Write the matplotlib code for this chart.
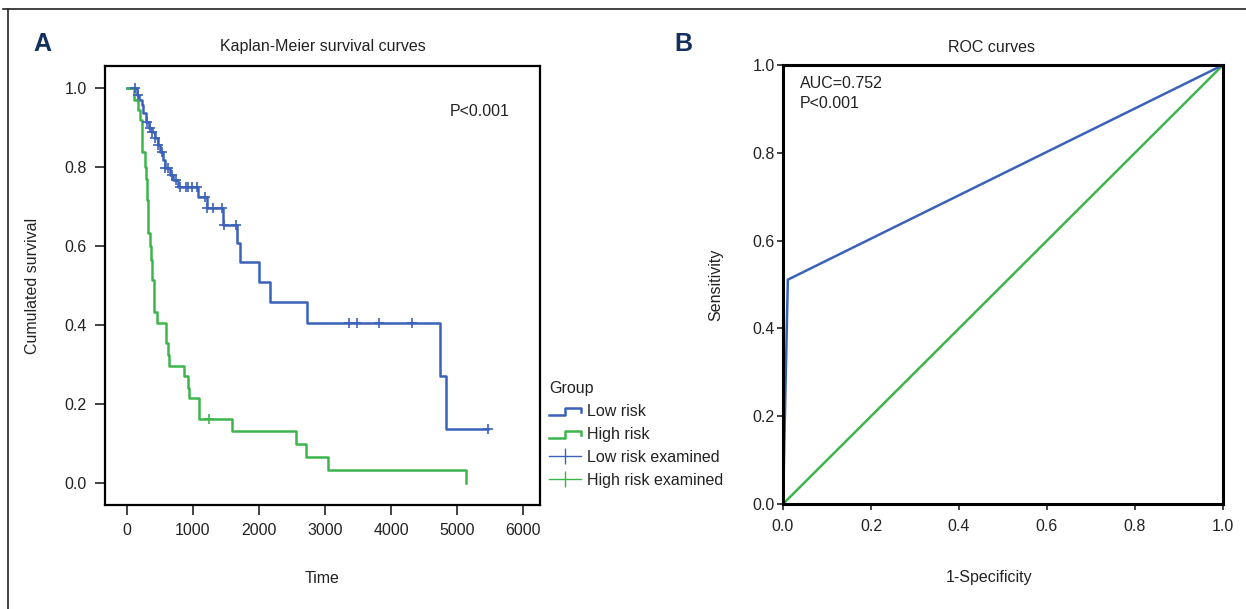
import numpy as np
import matplotlib
matplotlib.use("Agg")
import matplotlib.pyplot as plt
from matplotlib.lines import Line2D
from matplotlib.legend_handler import HandlerBase

plt.rcParams['font.family'] = ['Liberation Sans', 'DejaVu Sans']
FS = 11.5
plt.rcParams['font.size'] = FS

# Kaplan-Meier steps: time at which survival drops to the given level
low_time = [0, 152, 182, 227, 242, 288, 333, 379, 424, 470, 500, 545, 576, 652, 697,
            773, 1076, 1212, 1455, 1667, 1712, 2000, 2167, 2727, 4742, 4833, 5470]
low_surv = [1.0, 0.982, 0.97, 0.957, 0.937, 0.914, 0.90, 0.889, 0.873, 0.856, 0.838,
            0.818, 0.797, 0.78, 0.767, 0.749, 0.724, 0.696, 0.653, 0.607, 0.56, 0.509,
            0.458, 0.405, 0.271, 0.137, 0.137]
low_censor = [121, 167, 303, 348, 379, 424, 470, 530, 576, 621, 682, 742, 803, 894, 924,
              985, 1061, 1182, 1220, 1303, 1440, 1470, 1650, 3364, 3485, 3818, 4318, 5470]

high_time = [0, 106, 167, 197, 227, 273, 288, 303, 318, 348, 364, 379, 409, 455, 591,
             621, 636, 864, 924, 939, 1091, 1591, 2561, 2712, 3045, 5136]
high_surv = [1.0, 0.97, 0.945, 0.92, 0.838, 0.80, 0.77, 0.716, 0.633, 0.60, 0.565, 0.514,
             0.433, 0.405, 0.354, 0.324, 0.296, 0.271, 0.24, 0.215, 0.162, 0.132, 0.099,
             0.066, 0.033, 0.0]
high_censor = [1242]

# ROC curve points
roc_fpr = [0.0, 0.011, 1.0]
roc_tpr = [0.0, 0.511, 1.0]
ref_fpr = [0.0, 1.0]
ref_tpr = [0.0, 1.0]

km_ticks_x = [0, 1000, 2000, 3000, 4000, 5000, 6000]
unit_ticks = [0.0, 0.2, 0.4, 0.6, 0.8, 1.0]

BLUE = '#3b62b9'
GREEN = '#3db54c'
NAVY = '#13305e'
TXT = '#222222'
W, H = 1246, 609


def surv_at(times, surv, t):
    # value of the step function just after time t
    idx = np.searchsorted(times, t, side='right') - 1
    return np.asarray(surv)[idx]


class StepHandler(HandlerBase):
    # small step-shaped line for the survival curves in the legend
    def create_artists(self, legend, orig_handle, xdescent, ydescent,
                       width, height, fontsize, trans):
        x0 = -xdescent
        y0 = -ydescent + height * 0.1
        y1 = -ydescent + height * 0.7
        xs = [x0, x0 + width * 0.5, x0 + width * 0.5, x0 + width, x0 + width]
        ys = [y0, y0, y1, y1, y1 - height * 0.3]
        ln = Line2D(xs, ys, color=orig_handle.get_color(),
                    linewidth=orig_handle.get_linewidth(), transform=trans)
        return [ln]


fig = plt.figure(figsize=(W / 100, H / 100), dpi=100)

# thin frame along the top and left edge
fig.add_artist(Line2D([3 / W, 1.0], [1 - 9 / H, 1 - 9 / H], color=TXT, lw=1.2,
                      transform=fig.transFigure))
fig.add_artist(Line2D([8 / W, 8 / W], [0.0, 1 - 9 / H], color=TXT, lw=1.2,
                      transform=fig.transFigure))


def px_box(left, top, right, bottom):
    return [left / W, 1 - bottom / H, (right - left) / W, (bottom - top) / H]


# ---- Kaplan-Meier panel
ax1 = fig.add_axes(px_box(105, 66, 540, 505))
low_line, = ax1.step(low_time, low_surv, where='post', color=BLUE, lw=1.8)
high_line, = ax1.step(high_time, high_surv, where='post', color=GREEN, lw=1.8)
ax1.plot(low_censor, surv_at(low_time, low_surv, low_censor), ls='none', marker='+',
         ms=7, mew=1.2, color=BLUE)
ax1.plot(high_censor, surv_at(high_time, high_surv, high_censor), ls='none', marker='+',
         ms=7, mew=1.2, color=GREEN)
ax1.set_xlim(-333, 6258)
ax1.set_ylim(-0.056, 1.056)
ax1.set_xticks(km_ticks_x)
ax1.set_yticks(unit_ticks)
ax1.set_yticklabels([f'{v:.1f}' for v in unit_ticks])
ax1.tick_params(direction='out', length=7, width=1.2, pad=6, labelsize=FS, colors=TXT)
for sp in ax1.spines.values():
    sp.set_linewidth(1.6)
ax1.text(4894, 0.942, 'P<0.001', fontsize=FS, va='center', ha='left', color=TXT)
ax1.set_xlabel('Time', fontsize=FS, color=TXT)
ax1.set_ylabel('Cumulated survival', fontsize=FS, color=TXT)
ax1.xaxis.set_label_coords(0.5, -0.151)
ax1.yaxis.set_label_coords(-0.149, 0.5)

handles = [low_line, high_line,
           Line2D([], [], color=BLUE, lw=1.0, marker='|', ms=11, mew=1.0),
           Line2D([], [], color=GREEN, lw=1.0, marker='|', ms=11, mew=1.0)]
labels = ['Low risk', 'High risk', 'Low risk examined', 'High risk examined']
leg = fig.legend(handles, labels, title='Group', loc='upper left',
                 bbox_to_anchor=(549 / W, 1 - 381 / H), frameon=False, fontsize=FS,
                 title_fontsize=FS, handlelength=2.0, handletextpad=0.35,
                 labelspacing=0.5, borderpad=0, borderaxespad=0, alignment='left',
                 handler_map={low_line: StepHandler(), high_line: StepHandler()})
for t in leg.get_texts():
    t.set_color(TXT)
leg.get_title().set_color(TXT)

# ---- ROC panel
ax2 = fig.add_axes(px_box(783, 65, 1223, 504))
ax2.plot(ref_fpr, ref_tpr, color=GREEN, lw=1.8)
ax2.plot(roc_fpr, roc_tpr, color=BLUE, lw=1.8)
ax2.set_xlim(0, 1)
ax2.set_ylim(0, 1)
ax2.set_xticks(unit_ticks)
ax2.set_yticks(unit_ticks)
ax2.set_xticklabels([f'{v:.1f}' for v in unit_ticks])
ax2.set_yticklabels([f'{v:.1f}' for v in unit_ticks])
ax2.tick_params(direction='out', length=4, width=1.2, pad=2, labelsize=FS, colors=TXT)
ax2.tick_params(axis='x', pad=7)
for sp in ax2.spines.values():
    sp.set_linewidth(2.2)
ax2.text(0.039, 0.975, 'AUC=0.752\nP<0.001', fontsize=FS, va='top', ha='left',
         linespacing=1.4, color=TXT)
ax2.set_xlabel('1-Specificity', fontsize=FS, color=TXT)
ax2.set_ylabel('Sensitivity', fontsize=FS, color=TXT)
ax2.xaxis.set_label_coords(0.468, -0.151)
ax2.yaxis.set_label_coords(-0.136, 0.5)

# titles and panel letters
fig.text(323 / W, 1 - 47 / H, 'Kaplan-Meier survival curves', ha='center', va='center',
         fontsize=FS, color=TXT)
fig.text(991 / W, 1 - 47 / H, 'ROC curves', ha='center', va='center', fontsize=FS,
         color=TXT)
fig.text(42 / W, 1 - 44 / H, 'A', ha='center', va='center', fontsize=18,
         fontweight='bold', color=NAVY)
fig.text(683 / W, 1 - 44 / H, 'B', ha='center', va='center', fontsize=18,
         fontweight='bold', color=NAVY)

fig.savefig('out.png', dpi=100)
